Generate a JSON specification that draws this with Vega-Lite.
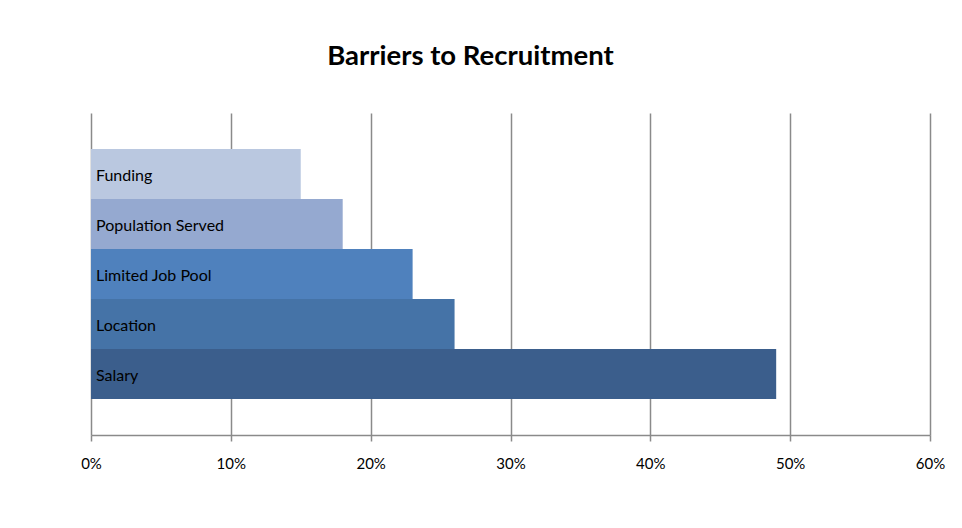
{
  "$schema": "https://vega.github.io/schema/vega-lite/v6.json",
  "width": 839,
  "height": 322,
  "autosize": "none",
  "padding": {"left": 91, "top": 113, "right": 32, "bottom": 93},
  "background": "white",
  "title": {
    "text": "Barriers to Recruitment",
    "font": "Lato",
    "fontSize": 27.5,
    "fontWeight": "bold",
    "color": "black",
    "anchor": "middle",
    "dx": -40,
    "offset": 21,
    "baseline": "alphabetic"
  },
  "config": {"view": {"stroke": null}},
  "data": {
    "values": [
      {"barrier": "Funding", "pct": 0.15},
      {"barrier": "Population Served", "pct": 0.18},
      {"barrier": "Limited Job Pool", "pct": 0.23},
      {"barrier": "Location", "pct": 0.26},
      {"barrier": "Salary", "pct": 0.49}
    ]
  },
  "encoding": {
    "y": {
      "field": "barrier",
      "type": "nominal",
      "sort": ["Funding", "Population Served", "Limited Job Pool", "Location", "Salary"],
      "scale": {"paddingInner": 0, "paddingOuter": 0.72},
      "axis": null
    }
  },
  "layer": [
    {
      "mark": {"type": "bar"},
      "encoding": {
        "x": {
          "field": "pct",
          "type": "quantitative",
          "scale": {"domain": [0, 0.6], "nice": false},
          "axis": {
            "title": null,
            "format": ".0%",
            "values": [0, 0.1, 0.2, 0.3, 0.4, 0.5, 0.6],
            "grid": true,
            "gridColor": "#8a8a8a",
            "gridWidth": 1.5,
            "domainColor": "#8a8a8a",
            "domainWidth": 1.5,
            "tickColor": "#8a8a8a",
            "tickWidth": 1.5,
            "tickSize": 6,
            "labelFlush": false,
            "labelFont": "Lato",
            "labelFontSize": 15,
            "labelColor": "black",
            "labelPadding": 15
          }
        },
        "color": {
          "field": "barrier",
          "type": "nominal",
          "scale": {
            "domain": ["Funding", "Population Served", "Limited Job Pool", "Location", "Salary"],
            "range": ["#bac8e0", "#95a9d0", "#4f81bd", "#4573a7", "#3b5e8c"]
          },
          "legend": null
        }
      }
    },
    {
      "mark": {"type": "text", "align": "left", "dx": 5, "dy": 2, "font": "Lato", "fontSize": 16, "color": "black"},
      "encoding": {
        "x": {"datum": 0},
        "text": {"field": "barrier"}
      }
    }
  ]
}
